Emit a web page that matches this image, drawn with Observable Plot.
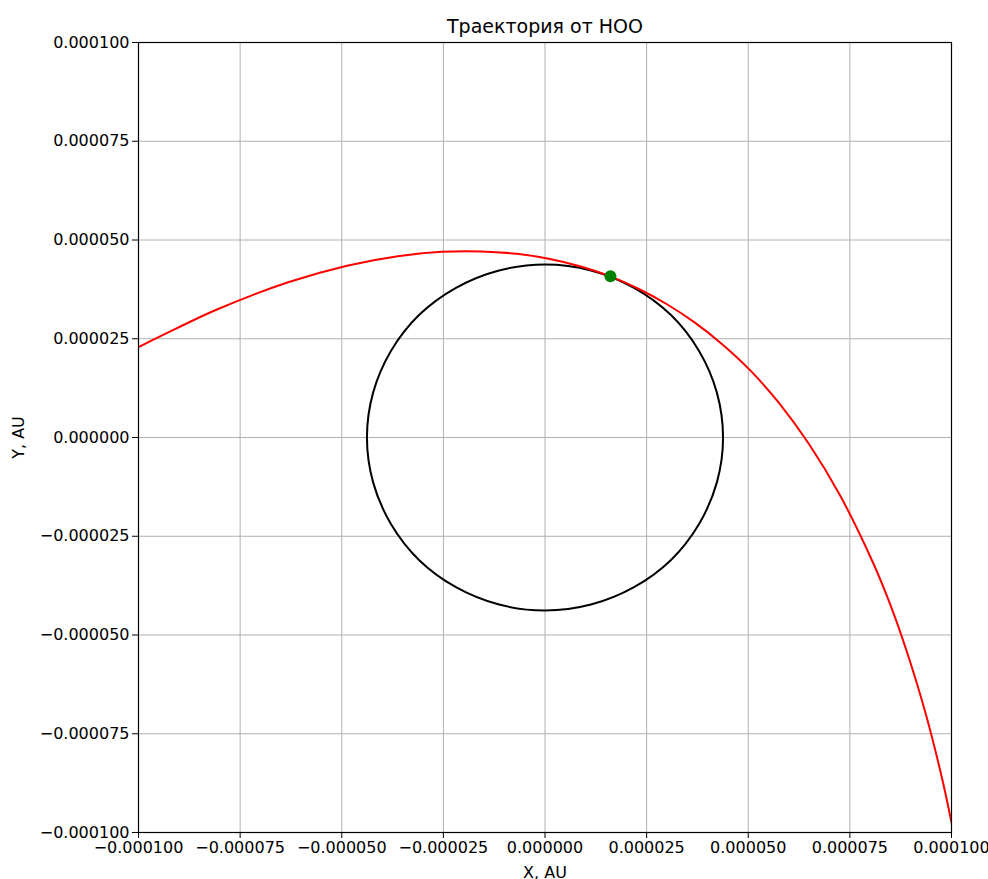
<!DOCTYPE html>
<html>
<head>
<meta charset="utf-8">
<script src="https://cdn.jsdelivr.net/npm/d3@7"></script>
<script src="https://cdn.jsdelivr.net/npm/@observablehq/plot@0.6"></script>
<style>
  html, body { margin: 0; padding: 0; background: white; }
</style>
</head>
<body>
<div id="chart"></div>
<script>
// Tick values (AU)
const xTicks = [-0.0001, -0.000075, -0.00005, -0.000025, 0, 0.000025, 0.00005, 0.000075, 0.0001];
const yTicks = [-0.0001, -0.000075, -0.00005, -0.000025, 0, 0.000025, 0.00005, 0.000075, 0.0001];

// Low Earth orbit circle (AU)
const orbitX = [4.38e-5, 4.23e-5, 3.79e-5, 3.10e-5, 2.19e-5, 1.13e-5, 0, -1.13e-5, -2.19e-5, -3.10e-5, -3.79e-5, -4.23e-5,
                -4.38e-5, -4.23e-5, -3.79e-5, -3.10e-5, -2.19e-5, -1.13e-5, 0, 1.13e-5, 2.19e-5, 3.10e-5, 3.79e-5, 4.23e-5];
const orbitY = [0, 1.13e-5, 2.19e-5, 3.10e-5, 3.79e-5, 4.23e-5, 4.38e-5, 4.23e-5, 3.79e-5, 3.10e-5, 2.19e-5, 1.13e-5,
                0, -1.13e-5, -2.19e-5, -3.10e-5, -3.79e-5, -4.23e-5, -4.38e-5, -4.23e-5, -3.79e-5, -3.10e-5, -2.19e-5, -1.13e-5];

// Departure trajectory (AU)
const trajX = [-10.0e-5, -9.09e-5, -8.07e-5, -6.32e-5, -4.87e-5, -3.62e-5, -2.54e-5, -1.57e-5, -0.69e-5, 0.12e-5, 0.88e-5,
               1.61e-5, 2.31e-5, 2.99e-5, 3.67e-5, 4.35e-5, 5.05e-5, 5.76e-5, 6.49e-5, 7.26e-5, 8.07e-5, 8.49e-5,
               8.91e-5, 9.34e-5, 9.77e-5, 10.02e-5];
const trajY = [2.29e-5, 2.75e-5, 3.24e-5, 3.93e-5, 4.35e-5, 4.59e-5, 4.70e-5, 4.71e-5, 4.65e-5, 4.52e-5, 4.33e-5,
               4.08e-5, 3.76e-5, 3.38e-5, 2.92e-5, 2.37e-5, 1.70e-5, 0.87e-5, -0.16e-5, -1.47e-5, -3.17e-5, -4.22e-5,
               -5.45e-5, -6.90e-5, -8.64e-5, -9.85e-5];

// Departure point
const startX = [1.61e-5];
const startY = [4.08e-5];

const orbit = orbitX.map((x, i) => ({x, y: orbitY[i]}));
const traj = trajX.map((x, i) => ({x, y: trajY[i]}));
const start = startX.map((x, i) => ({x, y: startY[i]}));

const fmt = d => (Math.abs(d) < 1e-12 ? 0 : d).toFixed(6).replace("-", "\u2212");

const chart = Plot.plot({
  width: 988,
  height: 879,
  marginLeft: 138,
  marginRight: 37,
  marginTop: 42,
  marginBottom: 47,
  style: {fontFamily: "DejaVu Sans", fontSize: "16px", background: "white", color: "black"},
  x: {domain: [-0.0001, 0.0001]},
  y: {domain: [-0.0001, 0.0001]},
  marks: [
    Plot.gridX(xTicks, {stroke: "#b0b0b0", strokeOpacity: 1, strokeWidth: 1}),
    Plot.gridY(yTicks, {stroke: "#b0b0b0", strokeOpacity: 1, strokeWidth: 1}),
    Plot.line(orbit, {x: "x", y: "y", stroke: "black", strokeWidth: 2, curve: "catmull-rom-closed"}),
    Plot.line(traj, {x: "x", y: "y", stroke: "red", strokeWidth: 2, curve: "catmull-rom", clip: true}),
    Plot.dot(start, {x: "x", y: "y", r: 6, fill: "green", stroke: "none"}),
    Plot.frame({stroke: "black", strokeWidth: 1.2}),
    Plot.axisX(xTicks, {tickFormat: fmt, tickSize: 6, tickPadding: 3, label: null, fontSize: 16}),
    Plot.axisY(yTicks, {tickFormat: fmt, tickSize: 6, tickPadding: 3, label: null, fontSize: 16}),
    Plot.text(["Траектория от НОО"], {frameAnchor: "top", dy: -16, fontSize: 19, lineAnchor: "middle"}),
    Plot.text(["X, AU"], {frameAnchor: "bottom", dy: 40, fontSize: 16, lineAnchor: "middle"}),
    Plot.text(["Y, AU"], {frameAnchor: "left", dx: -120, rotate: -90, fontSize: 16, lineAnchor: "middle", textAnchor: "middle"})
  ]
});
document.getElementById("chart").appendChild(chart);
</script>
</body>
</html>
